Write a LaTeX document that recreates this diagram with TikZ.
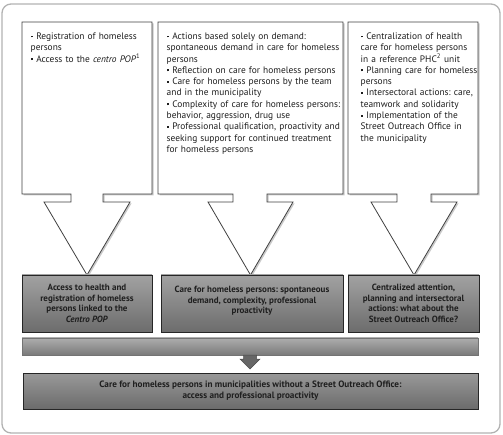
\documentclass[tikz,border=0pt]{standalone}
\usepackage{fontspec}
\setmainfont{PT Sans}
\usetikzlibrary{shadows}
\definecolor{txt}{HTML}{1E1E1E}
\definecolor{gtop}{HTML}{A2A2A2}
\definecolor{gbot}{HTML}{6C6C6C}
\newcommand\bul{\par\noindent\hangindent=5.6pt\hangafter=1\makebox[5.6pt][l]{\raisebox{2pt}{\rule{1.9pt}{1.9pt}}}}
\tikzset{
  callout/.style={draw=black!75, line width=0.8pt, fill=white, line join=miter,
    drop shadow={shadow xshift=1.5pt, shadow yshift=-1.5pt, opacity=0.35, fill=black!60}},
  listtext/.style={anchor=north west, inner sep=0pt, font=\fontsize{9.4}{11.3}\selectfont\frenchspacing,
    text=txt, align=left, text width=200pt},
  graybox/.style={draw=black!85, line width=0.8pt, top color=gtop, bottom color=gbot},
  graytext/.style={font=\fontsize{9}{10.6}\selectfont\bfseries\frenchspacing, text=black!88, align=center, inner sep=0pt},
}
\begin{document}
\begin{tikzpicture}[x=1pt,y=-1pt]
\useasboundingbox (0,0) rectangle (503,435);
\draw[draw=black!30, line width=1.3pt, rounded corners=9pt] (2,4) rectangle (500,433);
% callouts
\newcommand\callout[6]{% left right neckL neckR triL triR ; tip = mid
  \draw[callout] (#1,22) -- (#2,22) -- (#2,194) -- (#4,194) -- (#4,202) -- (#6,202)
   -- ({(#5+#6)/2},275) -- (#5,202) -- (#3,202) -- (#3,194) -- (#1,194) -- cycle;}
\callout{22}{152}{71}{103}{44}{130}
\callout{158}{343}{233}{267}{208}{293}
\callout{348}{478}{397}{431}{371}{457}
% list texts
\node[listtext] (l1) at (30.5,28) {%
\bul Registration of homeless\\persons
\bul Access to the \textit{centro POP}\textsuperscript{1}};
\node[listtext] (l2) at (166.5,28) {%
\bul Actions based solely on demand:\\spontaneous demand in care for homeless\\persons
\bul Reflection on care for homeless persons
\bul Care for homeless persons by the team\\and in the municipality
\bul Complexity of care for homeless persons:\\behavior, aggression, drug use
\bul Professional qualification, proactivity and\\seeking support for continued treatment\\for homeless persons};
\node[listtext] (l3) at (360.5,28) {%
\bul Centralization of health\\care for homeless persons\\in a reference PHC\textsuperscript{2} unit
\bul Planning care for homeless\\persons
\bul Intersectoral actions: care,\\teamwork and solidarity
\bul Implementation of the\\Street Outreach Office in\\the municipality};
% gray boxes
\draw[graybox] (22,275) rectangle (152,332);
\draw[graybox] (161,275) rectangle (343,332);
\draw[graybox] (348,275) rectangle (479,332);
\node[graytext] (g1) at (87,303.5) {Access to health and\\registration of homeless\\persons linked to the\\\textit{Centro POP}};
\node[graytext] (g2) at (252,301) {Care for homeless persons: spontaneous\\demand, complexity, professional\\proactivity};
\node[graytext] (g3) at (413.5,303.5) {Centralized attention,\\planning and intersectoral\\actions: what about the\\Street Outreach Office?};
% bar
\draw[draw=black!55, line width=0.8pt, top color=black!32, bottom color=black!52] (22,338) rectangle (478,355);
% arrow
\draw[draw=black!70, line width=0.5pt, fill=black!60]
  (243.5,355) -- (256.5,355) -- (256.5,359) -- (260,359) -- (250,369) -- (240,359) -- (243.5,359) -- cycle;
% final box
\draw[graybox, top color=black!40, bottom color=black!58] (23,373) rectangle (478,409);
\node[graytext, font=\fontsize{9.2}{10.8}\selectfont\bfseries\frenchspacing] (fin) at (250.5,391) {Care for homeless persons in municipalities without a Street Outreach Office:\\access and professional proactivity};
\end{tikzpicture}
\end{document}
